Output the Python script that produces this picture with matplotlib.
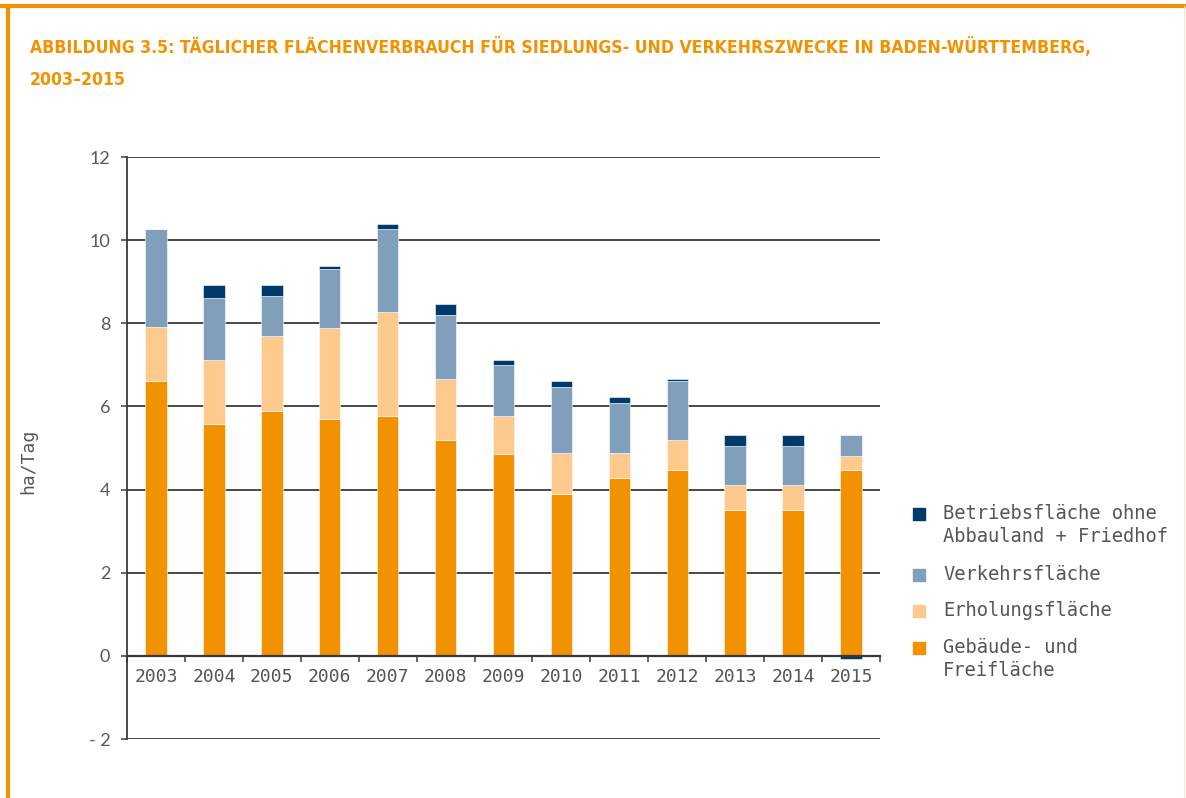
import numpy as np
import matplotlib
matplotlib.use('Agg')
import matplotlib.pyplot as plt
import matplotlib.font_manager as fm
from matplotlib.lines import Line2D
from matplotlib.patches import Rectangle

# data (ha/Tag)
years = ['2003', '2004', '2005', '2006', '2007', '2008', '2009',
         '2010', '2011', '2012', '2013', '2014', '2015']
gebaeude = [6.61, 5.57, 5.90, 5.70, 5.77, 5.19, 4.86, 3.90, 4.29, 4.47, 3.51, 3.51, 4.47]
erholung = [1.30, 1.55, 1.80, 2.19, 2.51, 1.48, 0.91, 0.97, 0.58, 0.72, 0.59, 0.59, 0.34]
verkehr = [2.35, 1.48, 0.96, 1.42, 1.99, 1.54, 1.22, 1.60, 1.22, 1.42, 0.96, 0.96, 0.50]
betrieb = [0.00, 0.32, 0.26, 0.06, 0.13, 0.25, 0.13, 0.14, 0.13, 0.06, 0.25, 0.25, -0.07]

names = ['Gebäude- und\nFreifläche', 'Erholungsfläche', 'Verkehrsfläche',
         'Betriebsfläche ohne\nAbbauland + Friedhof']
colors = ['#F39200', '#FDC98D', '#7F9FBA', '#003A6B']
orange = '#F39200'
grey = '#555555'


def pick_condensed():
    # look for a condensed / narrow bold face among the installed fonts
    best, best_score = None, -1
    for f in fm.fontManager.ttflist:
        n = (f.name + ' ' + f.fname).lower()
        cond = (str(f.stretch) in ('condensed', 'semi-condensed', 'extra-condensed', 'ultra-condensed')
                or 'condensed' in n or 'narrow' in n)
        if not cond or f.style != 'normal':
            continue
        w = f.weight if isinstance(f.weight, (int, float)) else fm.weight_dict.get(f.weight, 400)
        score = 1000 - abs(w - 700)
        if score > best_score:
            best, best_score = f.fname, score
    return best


cond_file = pick_condensed()

fig = plt.figure(figsize=(11.86, 7.98), dpi=100)
ax = fig.add_axes([127 / 1186, 1 - 739 / 798, (880 - 127) / 1186, (739 - 157) / 798])

x = np.arange(len(years))
w = 0.37
series = [gebaeude, erholung, verkehr, betrieb]
bottom = np.zeros(len(years))
for vals, c in zip(series, colors):
    vals = np.array(vals)
    b = np.where(vals >= 0, bottom, 0)
    ax.bar(x, vals, w, bottom=b, color=c, edgecolor='white', linewidth=0.4, zorder=3)
    bottom = bottom + np.clip(vals, 0, None)

ax.set_xlim(-0.5, len(years) - 0.5)
ax.set_ylim(-2, 12)
yt = [-2, 0, 2, 4, 6, 8, 10, 12]
ax.set_yticks(yt)
ax.set_yticklabels(['- 2' if v < 0 else str(v) for v in yt], fontsize=13, color='#5a5a5a',
                   family=['Lato', 'DejaVu Sans'])
for v in yt:
    if v != 0:
        ax.axhline(v, color='#3a3a3a', lw=1.3, zorder=1)
ax.tick_params(axis='y', length=4, width=1.1, color='#3a3a3a', pad=8)

ax.spines['top'].set_visible(False)
ax.spines['right'].set_visible(False)
ax.spines['left'].set_color('#3a3a3a')
ax.spines['left'].set_linewidth(1.3)
ax.spines['bottom'].set_position(('data', 0))
ax.spines['bottom'].set_color('#3a3a3a')
ax.spines['bottom'].set_linewidth(1.6)
ax.spines['bottom'].set_zorder(4)

ax.set_xticks(x)
ax.set_xticklabels(years, fontsize=13, color=grey, family='DejaVu Sans Mono')
ax.set_xticks(np.arange(len(years) + 1) - 0.5, minor=True)
ax.tick_params(axis='x', which='major', length=0, pad=9)
ax.tick_params(axis='x', which='minor', length=4, width=1.1, color='#3a3a3a')

ax.set_ylabel('ha/Tag', fontsize=13, color=grey, family='DejaVu Sans Mono')
ax.yaxis.set_label_coords((37 - 127) / 753, (739 - 461) / 582)

# legend drawn by hand so the squares line up with the first text line
leg_y = [514, 575, 611, 648]
leg_order = [3, 2, 1, 0]
for yy, i in zip(leg_y, leg_order):
    fig.add_artist(Rectangle((913 / 1186, 1 - (yy + 6) / 798), 12 / 1186, 12 / 798,
                             transform=fig.transFigure, color=colors[i]))
    fig.text(943 / 1186, 1 - (yy - 10) / 798, names[i], fontsize=13.5, color=grey,
             family='DejaVu Sans Mono', va='top', ha='left', linespacing=1.3)

# title
if cond_file:
    tp = fm.FontProperties(fname=cond_file, size=17)
else:
    tp = fm.FontProperties(family='DejaVu Sans', weight='bold', size=17)
t1 = fig.text(30 / 1186, 1 - 53 / 798,
              'ABBILDUNG 3.5: TÄGLICHER FLÄCHENVERBRAUCH FÜR SIEDLUNGS- UND VERKEHRSZWECKE IN BADEN-WÜRTTEMBERG,',
              fontproperties=tp, color=orange, ha='left', va='baseline')
t2 = fig.text(30 / 1186, 1 - 85 / 798, '2003–2015', fontproperties=tp, color=orange,
              ha='left', va='baseline')
r = fig.canvas.get_renderer()
wpx = t1.get_window_extent(r).width
size = min(17 * 1060 / wpx, 19)
t1.set_fontsize(size)
t2.set_fontsize(size)

# orange frame
fig.add_artist(Line2D([0, 1], [1 - 6 / 798] * 2, transform=fig.transFigure, color=orange, lw=3))
fig.add_artist(Line2D([8 / 1186] * 2, [0, 1 - 6 / 798], transform=fig.transFigure, color=orange, lw=3))
fig.add_artist(Line2D([1184 / 1186] * 2, [0, 1 - 6 / 798], transform=fig.transFigure,
                      color='#FCE2C6', lw=0.8))

fig.savefig('out.png', dpi=100)
